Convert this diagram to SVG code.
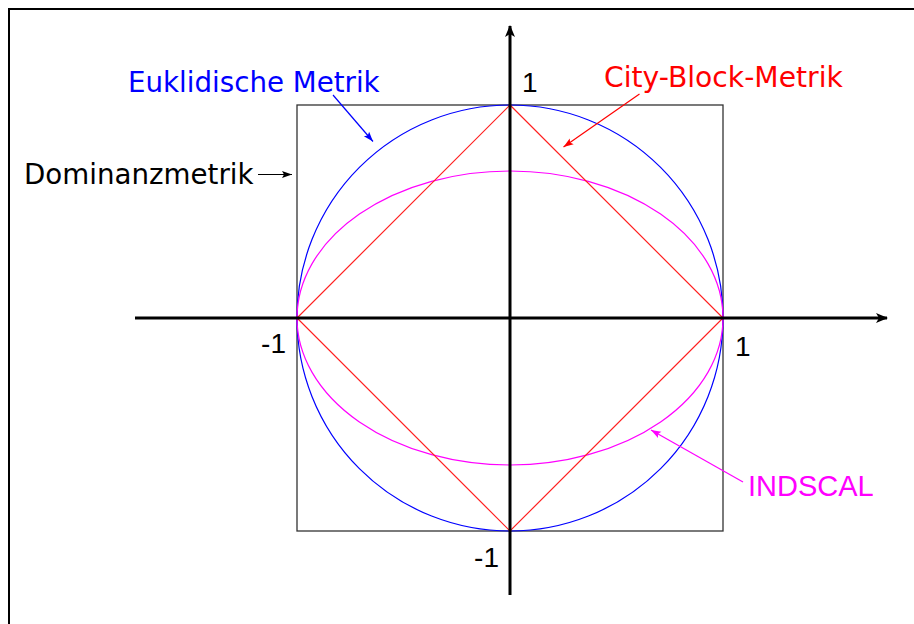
<svg xmlns="http://www.w3.org/2000/svg" width="914" height="624" viewBox="0 0 914 624">
<style>
.lbl{font-family:"DejaVu Sans",Verdana,sans-serif;font-size:27.7px}
.num{font-family:"Liberation Sans",Arial,sans-serif;font-size:28px;fill:#000}
.ax{stroke:#000;stroke-width:3;fill:none}
.thin{stroke-width:1.2;fill:none}
</style>
<defs>
<marker id="axh" viewBox="0 0 12 12" refX="11" refY="6" markerUnits="userSpaceOnUse" markerWidth="12" markerHeight="12" orient="auto">
<path d="M0,1 L12,6 L0,11 L3,6 Z" fill="#000"/>
</marker>
<marker id="ahB" viewBox="0 0 10 8" refX="10" refY="4" markerUnits="userSpaceOnUse" markerWidth="10" markerHeight="8" orient="auto">
<path d="M0,0.5 L10,4 L0,7.5 L2,4 Z" fill="#0000ff"/>
</marker>
<marker id="ahR" viewBox="0 0 10 8" refX="10" refY="4" markerUnits="userSpaceOnUse" markerWidth="10" markerHeight="8" orient="auto">
<path d="M0,0.5 L10,4 L0,7.5 L2,4 Z" fill="#ff0000"/>
</marker>
<marker id="ahK" viewBox="0 0 10 8" refX="10" refY="4" markerUnits="userSpaceOnUse" markerWidth="10" markerHeight="8" orient="auto">
<path d="M0,0.5 L10,4 L0,7.5 L2,4 Z" fill="#000"/>
</marker>
<marker id="ahM" viewBox="0 0 10 8" refX="10" refY="4" markerUnits="userSpaceOnUse" markerWidth="10" markerHeight="8" orient="auto">
<path d="M0,0.5 L10,4 L0,7.5 L2,4 Z" fill="#ff00ff"/>
</marker>
</defs>
<rect width="914" height="624" fill="#fff"/>
<rect x="9" y="9" width="1000" height="1000" fill="none" stroke="#000" stroke-width="2"/>

<g id="dominanz-square">
<rect x="297" y="105" width="426" height="426" fill="none" stroke="#333" stroke-width="1.3"/>
</g>
<g id="euklid-circle">
<circle cx="510" cy="318" r="213" class="thin" stroke="#0000ff"/>
</g>
<g id="indscal-ellipse">
<ellipse cx="510" cy="318" rx="213" ry="147" class="thin" stroke="#ff00ff"/>
</g>
<g id="cityblock-diamond">
<polygon points="510,105 723,318 510,531 297,318" class="thin" stroke="#ff2020"/>
</g>

<g id="axes">
<line x1="135" y1="318" x2="887" y2="318" class="ax" marker-end="url(#axh)"/>
<line x1="510" y1="595" x2="510" y2="26" class="ax" marker-end="url(#axh)"/>
</g>

<g id="axis-labels">
<text class="num" x="522" y="92">1</text>
<text class="num" x="286" y="353" text-anchor="end">-1</text>
<text class="num" x="735" y="356">1</text>
<text class="num" x="499" y="567" text-anchor="end">-1</text>
</g>

<g id="label-euklid">
<text class="lbl" x="128" y="92" fill="#0000ff">Euklidische Metrik</text>
</g>
<g id="label-cityblock">
<text class="lbl" x="604" y="87" fill="#ff0000" style="font-size:28.2px">City-Block-Metrik</text>
</g>
<g id="label-dominanz">
<text class="lbl" x="24" y="184" fill="#000">Dominanzmetrik</text>
</g>
<g id="label-indscal">
<text x="748" y="496" fill="#ff00ff" style="font-family:'Liberation Sans',Arial,sans-serif;font-size:29px">INDSCAL</text>
</g>

<g id="connectors" stroke-width="1.2" fill="none">
<line x1="333" y1="95" x2="373" y2="141.5" stroke="#0000ff" marker-end="url(#ahB)"/>
<line x1="639.5" y1="94" x2="563.5" y2="147" stroke="#ff0000" marker-end="url(#ahR)"/>
<line x1="258" y1="174.5" x2="292" y2="174.5" stroke="#000" marker-end="url(#ahK)"/>
<line x1="743" y1="482" x2="651" y2="430" stroke="#ff00ff" marker-end="url(#ahM)"/>
</g>
</svg>
